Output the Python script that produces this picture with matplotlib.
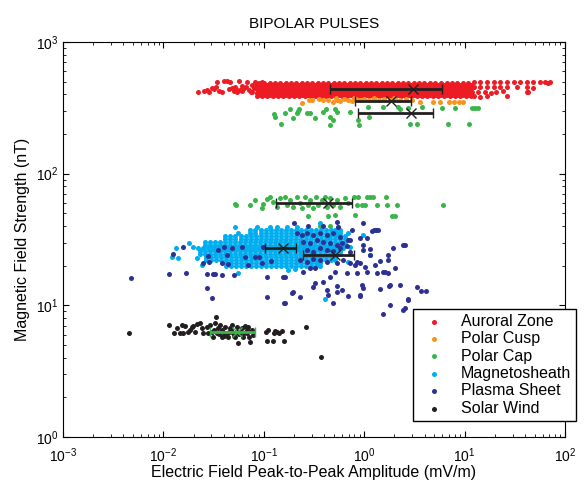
import numpy as np
import matplotlib
matplotlib.use("Agg")
import matplotlib.pyplot as plt

plt.rcParams['font.family'] = ['Liberation Sans', 'DejaVu Sans']
plt.rcParams['mathtext.fontset'] = 'custom'
plt.rcParams['mathtext.rm'] = 'Liberation Sans'

# all values are log10 of E (mV/m) and B (nT)

# Auroral Zone: scattered left / right parts
aur_lx = [-1.66, -1.60, -1.57, -1.55, -1.52, -1.50, -1.48, -1.45, -1.42, -1.47, -1.40, -1.37, -1.34,
          -1.25, -1.17, -1.09, -1.02, -1.32, -1.30, -1.29, -1.24, -1.20, -1.15, -1.10, -1.12, -1.27,
          -1.35, -1.28, -1.22, -1.18, -1.13, -1.08, -1.12, -1.22,
          1.09, 1.15, 1.22, 1.29, 1.35, 1.42, 1.49, 1.55, 1.62, 1.68, 1.75, 1.80, 1.85,
          1.09, 1.15, 1.22, 1.29, 1.35, 1.42, 1.52, 1.62, 1.68,
          1.07, 1.13, 1.20, 1.26, 1.31, 1.38,
          1.09, 1.15, 1.22, 1.42, 1.63, 1.83, 1.62]
aur_ly = [2.618, 2.628, 2.636, 2.623, 2.653, 2.643, 2.660, 2.628, 2.623, 2.700, 2.704, 2.704, 2.700,
          2.704, 2.700, 2.700, 2.700, 2.648, 2.628, 2.660, 2.636, 2.648, 2.638, 2.648, 2.623, 2.618,
          2.640, 2.645, 2.630, 2.655, 2.620, 2.660, 2.675, 2.665,
          2.695, 2.695, 2.697, 2.695, 2.693, 2.695, 2.697, 2.695, 2.695, 2.693, 2.695, 2.693, 2.695,
          2.658, 2.660, 2.655, 2.658, 2.655, 2.660, 2.658, 2.660, 2.652,
          2.620, 2.617, 2.622, 2.612, 2.620, 2.625,
          2.589, 2.586, 2.591, 2.589, 2.620, 2.690, 2.622]
# Auroral Zone: solid core, rows of points
aur_core_y = [2.692, 2.676, 2.661, 2.646, 2.631, 2.616, 2.601, 2.588]
aur_core_xa = [-1.05, -1.00, -0.94, -0.89, -0.84, -0.78, -0.73, -0.68, -0.62, -0.57, -0.52, -0.46,
               -0.41, -0.36, -0.30, -0.25, -0.20, -0.14, -0.09, -0.04, 0.02, 0.07, 0.12, 0.18, 0.23,
               0.28, 0.34, 0.39, 0.44, 0.50, 0.55, 0.60, 0.66, 0.71, 0.76, 0.82, 0.87, 0.92, 0.98, 1.03]
aur_core_xb = [-1.07, -1.02, -0.97, -0.91, -0.86, -0.81, -0.75, -0.70, -0.65, -0.59, -0.54, -0.49,
               -0.43, -0.38, -0.33, -0.27, -0.22, -0.17, -0.11, -0.06, -0.01, 0.05, 0.10, 0.15, 0.21,
               0.26, 0.31, 0.37, 0.42, 0.47, 0.53, 0.58, 0.63, 0.69, 0.74, 0.79, 0.85, 0.90, 0.95, 1.01, 1.06]

# Polar Cusp
cusp_lx = [-0.62, -0.55, -0.52, -0.45, -0.41, -0.36, -0.31, -0.27, -0.24, -0.20, -0.16, -0.12, -0.08,
           -0.04, 0.00, 0.05, 0.10, 0.15, 0.20, 0.26, 0.31, 0.36, 0.42, 0.48, 0.556, 0.69, 0.755, 0.84,
           0.89, 0.94, 0.98, -0.28, -0.10, 0.10, 0.30]
cusp_ly = [2.537, 2.560, 2.556, 2.565, 2.562, 2.558, 2.547, 2.560, 2.555, 2.565, 2.560, 2.555, 2.565,
           2.558, 2.570, 2.560, 2.565, 2.560, 2.565, 2.560, 2.570, 2.562, 2.565, 2.560, 2.542, 2.545,
           2.545, 2.548, 2.548, 2.546, 2.548, 2.575, 2.575, 2.578, 2.575]

# Polar Cap (upper group near 300 nT and middle group near 60 nT)
cap_lx = [-0.898, -0.888, -0.832, -0.789, -0.739, -0.706, -0.672, -0.656, -0.646, -0.567, -0.540,
          -0.490, -0.407, -0.380, -0.341, -0.314, -0.341, -0.291, -0.274, -0.141, -0.058, -0.048,
          0.041, 0.051, 0.190, 0.340, 0.357, 0.439, 0.456, 0.523, 0.573, 0.772, 0.838, 0.904, 1.047,
          1.071, 1.104, 1.136,
          -1.287, -1.277, -1.137, -1.088, -1.021, -1.005, -0.971, -0.938, -0.905, -0.871, -0.839,
          -0.789, -0.772, -0.739, -0.706, -0.672, -0.639, -0.622, -0.590, -0.557, -0.540, -0.507,
          -0.480, -0.457, -0.423, -0.390, -0.374, -0.341, -0.308, -0.274, -0.241, -0.191, -0.158,
          -0.102, -0.058, -0.075, -0.025, 0.008, 0.025, 0.058, 0.085, 0.125, 0.217, 0.224, 0.324,
          0.788, -0.557, -0.358, -0.291, -0.092, 0.274, 0.307, -0.440, -0.341, -0.261]
cap_ly = [2.453, 2.428, 2.377, 2.463, 2.489, 2.421, 2.463, 2.478, 2.489, 2.463, 2.463,
          2.425, 2.471, 2.489, 2.433, 2.408, 2.370, 2.489, 2.471, 2.471, 2.408, 2.370,
          2.504, 2.433, 2.504, 2.504, 2.489, 2.497, 2.377, 2.377, 2.509, 2.497, 2.377, 2.497, 2.377,
          2.497, 2.497, 2.497,
          1.767, 1.762, 1.762, 1.800, 1.737, 1.770, 1.806, 1.821, 1.787, 1.749, 1.813,
          1.825, 1.762, 1.800, 1.749, 1.821, 1.775, 1.737, 1.825, 1.762, 1.800, 1.737,
          1.821, 1.762, 1.800, 1.825, 1.749, 1.813, 1.762, 1.800, 1.749, 1.813, 1.775,
          1.821, 1.821, 1.762, 1.762, 1.762, 1.821, 1.821, 1.821, 1.762, 1.821, 1.762, 1.762,
          1.762, 1.679, 1.679, 1.686, 1.686, 1.679, 1.679, 1.603, 1.603, 1.595]

# Magnetosheath: scattered points
ms_lx = [-1.917, -1.875, -1.852, -1.742, -1.702, -1.668, -1.287, -1.254, -1.071, -0.938, -1.254,
         -0.872, -0.772, -0.672, -0.440, -0.274, -0.158, -0.009, 0.058, -0.208, -0.141, -0.756,
         -0.689, -0.161, -0.390, -1.619]
ms_ly = [1.369, 1.433, 1.357, 1.475, 1.440, 1.357, 1.597, 1.551, 1.597, 1.597, 1.243,
         1.597, 1.597, 1.597, 1.623, 1.547, 1.547, 1.534, 1.382, 1.445, 1.445, 1.268,
         1.274, 1.331, 1.046, 1.306]
# Magnetosheath: dense core, rows of points
ms_x_a = [-1.14, -1.09, -1.03, -0.98, -0.93, -0.88, -0.83, -0.78, -0.73, -0.68, -0.63, -0.58, -0.53,
          -0.48, -0.43, -0.38, -0.33, -0.29, -0.24]
ms_x_b = [-1.39, -1.34, -1.29, -1.23, -1.18, -1.13, -1.08, -1.03, -0.98, -0.93, -0.88, -0.83, -0.78,
          -0.73, -0.68, -0.63, -0.58, -0.53, -0.48, -0.43, -0.38, -0.34, -0.29, -0.24, -0.19]
ms_x_c = [-1.59, -1.54, -1.49, -1.44, -1.39, -1.34, -1.29, -1.24, -1.19, -1.14, -1.09, -1.04, -0.99,
          -0.94, -0.89, -0.84, -0.79, -0.74, -0.69, -0.64, -0.59, -0.54, -0.49, -0.44, -0.39, -0.34,
          -0.29, -0.24, -0.19]
ms_x_d = [-1.66, -1.61, -1.56, -1.51, -1.46, -1.41, -1.36, -1.31, -1.26, -1.21, -1.16, -1.11, -1.06,
          -1.01, -0.96, -0.91, -0.86, -0.81, -0.76, -0.71, -0.66, -0.61, -0.56, -0.51, -0.46, -0.41,
          -0.36, -0.31, -0.26, -0.21]
ms_x_e = [-1.64, -1.59, -1.54, -1.49, -1.44, -1.39, -1.34, -1.29, -1.24, -1.19, -1.14, -1.09, -1.04,
          -0.99, -0.94, -0.89, -0.84, -0.79, -0.74, -0.69, -0.64, -0.59, -0.54, -0.49, -0.44, -0.39,
          -0.34, -0.29, -0.24]
ms_x_f = [-1.58, -1.53, -1.48, -1.43, -1.38, -1.33, -1.28, -1.23, -1.18, -1.13, -1.08, -1.03, -0.98,
          -0.93, -0.88, -0.83, -0.78, -0.73, -0.68, -0.63, -0.58, -0.53, -0.48, -0.43, -0.38, -0.33,
          -0.29]
ms_x_g = [-1.38, -1.33, -1.28, -1.23, -1.18, -1.13, -1.08, -1.03, -0.98, -0.93, -0.88, -0.83, -0.78,
          -0.73, -0.68, -0.63, -0.58, -0.53, -0.48, -0.44]
ms_row_y = [1.572, 1.549, 1.526, 1.503, 1.481, 1.458, 1.435, 1.412, 1.390, 1.367, 1.344, 1.321, 1.298]
ms_row_x = [ms_x_a, ms_x_a, ms_x_b, ms_x_b, ms_x_c, ms_x_c, ms_x_d, ms_x_e, ms_x_e, ms_x_f, ms_x_f,
            ms_x_g, ms_x_g]

# Plasma Sheet
ps_lx = [-2.326, -1.941, -1.901, -1.808, -1.775, -1.563, -1.503, -1.486, -1.419, -1.563, -1.519,
         -1.297, -0.971, -0.971, -1.453, -1.396, -1.370, -1.419, -1.553, -1.603, -1.543, -1.320,
         -1.354, -1.187, -1.154, -1.088, -1.045, -1.005, -1.021, -0.931, -1.220,
         -0.699, -0.557, -0.407, -0.274, -0.009, -0.125, 0.075, 0.118, 0.140, -0.042, 0.025,
         -0.672, -0.623, -0.573, -0.507, -0.440, -0.374, -0.308, -0.241, -0.158,
         -0.607, -0.540, -0.473, -0.407, -0.341, -0.274, -0.224, -0.174,
         -0.573, -0.507, -0.440, -0.374, -0.308, -0.241, -0.141, -0.009, 0.058,
         -0.639, -0.573, -0.507, -0.440, -0.374, -0.274, -0.208, -0.141, -0.075,
         0.058, 0.240, 0.290, 0.406, 0.240, 0.307, 0.108, 0.008, -0.092, -0.042,
         -0.607, -0.789, -0.540, -0.490, -0.341, -0.291, -0.174, -0.075, 0.025, 0.207, 0.240,
         -0.490, -0.507, -0.407, -0.274, -0.224, -0.274, -0.374, -0.706, -0.722, -0.639,
         -0.025, -0.009, 0.157, 0.257, 0.357, 0.523, 0.563, 0.616, -0.158, -0.042, 0.439,
         0.098, -0.141, -0.009, 0.389, 0.157, 0.190, 0.124, 0.250, 0.439, 0.257, 0.406,
         -0.042, -0.364, -0.789, -0.806, -0.258, -0.799, -0.308, 0.190, 0.389]
ps_ly = [1.205, 1.235, 1.387, 1.440, 1.248, 1.235, 1.235, 1.235, 1.230, 1.129, 1.053,
         1.230, 1.065, 1.212, 1.420, 1.445, 1.382, 1.319, 1.375, 1.319, 1.331, 1.433,
         1.314, 1.369, 1.306, 1.369, 1.369, 1.445, 1.319, 1.339, 1.440,
         1.623, 1.602, 1.602, 1.635, 1.627, 1.572, 1.567, 1.572, 1.572, 1.509, 1.509,
         1.547, 1.534, 1.547, 1.534, 1.547, 1.534, 1.547, 1.522, 1.496,
         1.483, 1.471, 1.496, 1.483, 1.471, 1.458, 1.471, 1.450,
         1.420, 1.407, 1.433, 1.420, 1.415, 1.433, 1.407, 1.420, 1.425,
         1.344, 1.331, 1.349, 1.344, 1.331, 1.323, 1.344, 1.319, 1.331,
         1.382, 1.382, 1.433, 1.458, 1.344, 1.281, 1.306, 1.293, 1.306, 1.319,
         1.255, 1.217, 1.281, 1.281, 1.217, 1.255, 1.243, 1.243, 1.255, 1.255, 1.243,
         1.167, 1.141, 1.179, 1.147, 1.116, 1.104, 1.116, 1.104, 1.091, 1.065,
         1.154, 1.129, 1.121, 1.154, 1.154, 1.141, 1.111, 1.111, 1.071, 1.071, 1.046,
         1.572, 1.496, 1.458, 1.458, 1.335, 1.255, 1.243, 1.147, 1.040, 1.002, 0.977,
         1.078, 1.078, 1.020, 1.217, 1.596, 1.015, 1.015, 0.934, 0.961]

# Solar Wind
sw_lx = [-2.340, -1.941, -1.894, -1.868, -1.835, -1.818, -1.802, -1.785, -1.752, -1.735, -1.718,
         -1.702, -1.685, -1.662, -1.635, -1.619, -1.609, -1.569, -1.536, -1.519, -1.503, -1.486,
         -1.476, -1.469, -1.453, -1.436, -1.419, -1.403, -1.386, -1.370, -1.353, -1.337, -1.320,
         -1.304, -1.287, -1.270, -1.254, -1.237, -1.220, -1.204, -1.187, -1.170, -1.154, -1.137,
         -1.121, -1.105, -0.978, -0.971, -0.955, -0.911, -0.898, -0.888, -0.866, -0.846, -0.822,
         -0.799, -0.722, -0.583, -0.427,
         -1.45, -1.40, -1.35, -1.30, -1.25, -1.20, -1.15, -1.42, -1.33, -1.27, -1.17, -1.50, -1.56]
sw_ly = [0.787, 0.850, 0.787, 0.825, 0.787, 0.850, 0.787, 0.843, 0.800, 0.812, 0.833,
         0.843, 0.800, 0.858, 0.863, 0.825, 0.787, 0.837, 0.850, 0.800, 0.762, 0.868,
         0.913, 0.787, 0.825, 0.850, 0.762, 0.800, 0.837, 0.787, 0.762, 0.825, 0.850,
         0.787, 0.762, 0.837, 0.716, 0.800, 0.825, 0.762, 0.843, 0.787, 0.837, 0.724,
         0.812, 0.775, 0.800, 0.731, 0.812, 0.731, 0.792, 0.807, 0.800, 0.787, 0.807,
         0.731, 0.800, 0.833, 0.610,
         0.780, 0.770, 0.800, 0.770, 0.780, 0.790, 0.760, 0.810, 0.810, 0.800, 0.810, 0.810, 0.790]

# median and range bars per region (mV/m, nT)
bar_mid = [3.06, 1.85, 2.93, 0.435, 0.155, 0.51, 0.054]
bar_lo = [0.46, 0.81, 0.87, 0.132, 0.103, 0.245, 0.029]
bar_hi = [5.96, 2.93, 4.84, 0.755, 0.21, 0.79, 0.082]
bar_b = [440, 357, 289, 60, 27.3, 24.2, 6.28]

regions = ['Auroral Zone', 'Polar Cusp', 'Polar Cap', 'Magnetosheath', 'Plasma Sheet', 'Solar Wind']
colors = ['#ED1C24', '#F7941D', '#39B54A', '#00AEEF', '#2E3192', '#231F20']

# build the dense cores
for k, y in enumerate(aur_core_y):
    xs = aur_core_xa if k % 2 == 0 else aur_core_xb
    aur_lx = aur_lx + xs
    aur_ly = aur_ly + [y] * len(xs)
for y, xs in zip(ms_row_y, ms_row_x):
    ms_lx = ms_lx + xs
    ms_ly = ms_ly + [y] * len(xs)

groups = [(aur_lx, aur_ly), (cusp_lx, cusp_ly), (cap_lx, cap_ly),
          (ms_lx, ms_ly), (ps_lx, ps_ly), (sw_lx, sw_ly)]

fig = plt.figure(figsize=(5.88, 4.83), dpi=100)
ax = fig.add_axes([63 / 588, 46 / 483, 502 / 588, 395 / 483])

for (lx, ly), name, c in zip(groups, regions, colors):
    ax.scatter(10 ** np.array(lx), 10 ** np.array(ly), s=13, color=c, linewidths=0, label=name)

mid = np.array(bar_mid)
xerr = [mid - np.array(bar_lo), np.array(bar_hi) - mid]
bar_colors = ['#231F20'] * 6 + ['#39B54A']
for i in range(len(mid)):
    ax.errorbar(mid[i], bar_b[i], xerr=[[xerr[0][i]], [xerr[1][i]]], fmt='x', color=bar_colors[i],
                ms=7, mew=1, elinewidth=2, capsize=3.5, capthick=2)

ax.set_xscale('log')
ax.set_yscale('log')
ax.set_xlim(1e-3, 1e2)
ax.set_ylim(1e0, 1e3)
ax.tick_params(which='both', direction='in', top=True, right=True, labelsize=10)
ax.tick_params(which='major', length=4)
ax.tick_params(which='minor', length=2)
ax.tick_params(axis='x', which='major', pad=7)
ax.set_title('BIPOLAR PULSES', fontsize=11, pad=10)
ax.set_xlabel('Electric Field Peak-to-Peak Amplitude (mV/m)', fontsize=11.5, labelpad=0)
ax.set_ylabel('Magnetic Field Strength (nT)', fontsize=11.5, labelpad=4)

leg = ax.legend(loc='upper left', bbox_to_anchor=(413 / 588, 1 - 309 / 483),
                bbox_transform=fig.transFigure, borderaxespad=0, fancybox=False, framealpha=1,
                edgecolor='black', fontsize=11.5, scatterpoints=1, handlelength=2.0,
                handletextpad=0.7, labelspacing=0.15, borderpad=0.3)
leg.get_frame().set_linewidth(1)

fig.savefig('out.png', dpi=100)
